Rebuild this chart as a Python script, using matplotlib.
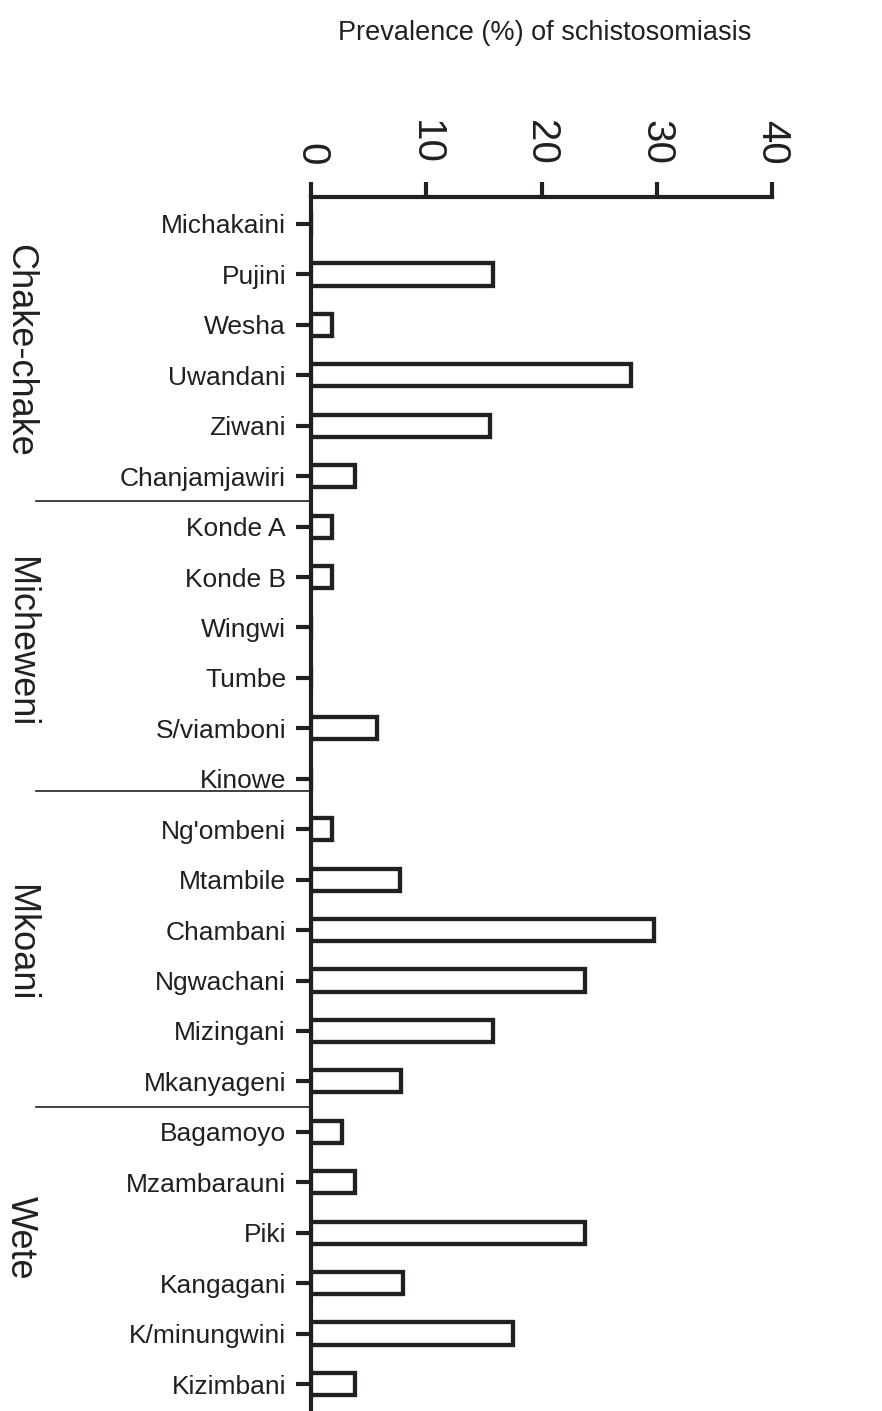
import matplotlib
matplotlib.use("Agg")
import matplotlib.pyplot as plt
from matplotlib.transforms import blended_transform_factory

sites = ["Michakaini", "Pujini", "Wesha", "Uwandani", "Ziwani", "Chanjamjawiri",
         "Konde A", "Konde B", "Wingwi", "Tumbe", "S/viamboni", "Kinowe",
         "Ng'ombeni", "Mtambile", "Chambani", "Ngwachani", "Mizingani", "Mkanyageni",
         "Bagamoyo", "Mzambarauni", "Piki", "Kangagani", "K/minungwini", "Kizimbani"]
prevalence = [0, 15.8, 1.8, 27.8, 15.5, 3.8,
              1.8, 1.8, 0, 0, 5.7, 0,
              1.8, 7.7, 29.8, 23.8, 15.8, 7.8,
              2.7, 3.8, 23.8, 8.0, 17.5, 3.8]
districts = ["Chake-chake", "Micheweni", "Mkoani", "Wete"]
district_centers = [2.5, 8.3, 14.25, 20.1]
separators = [5.5, 11.25, 17.5]
xticks = [0, 10, 20, 30, 40]

ink = "#231f20"
plt.rcParams['font.family'] = ['Liberation Sans', 'DejaVu Sans']

fig = plt.figure(figsize=(8.82, 14.11), dpi=100)
ax = fig.add_axes([311/882, 0.0, (772-311)/882, 1 - 197/1411])

ypos = list(range(len(sites)))
ax.barh(ypos, prevalence, height=0.44, facecolor="white", edgecolor=ink,
        linewidth=3.1, zorder=3)

ax.set_xlim(0, 40)
ax.set_ylim(23.535, -0.535)

ax.xaxis.tick_top()
ax.set_xticks(xticks)
ax.set_xticklabels([str(v) for v in xticks], rotation=-90, fontsize=29, color=ink)
ax.tick_params(axis='x', direction='out', length=11, width=3, pad=12, colors=ink)

ax.set_yticks(ypos)
ax.set_yticklabels(sites, fontsize=19, color=ink)
ax.tick_params(axis='y', direction='out', length=11, width=3, pad=7, colors=ink)

for s in ["right", "bottom"]:
    ax.spines[s].set_visible(False)
for s in ["left", "top"]:
    ax.spines[s].set_linewidth(3)
    ax.spines[s].set_color(ink)

tr = blended_transform_factory(ax.transAxes, ax.transData)
for sep in separators:
    ax.plot([(36-311)/461, 0], [sep, sep], color=ink, linewidth=1.2,
            transform=tr, clip_on=False)

trg = blended_transform_factory(fig.transFigure, ax.transData)
for name, c in zip(districts, district_centers):
    ax.text(20/882, c, name, rotation=-90, ha='center', va='center',
            fontsize=26, color=ink, transform=trg)

fig.text(545/882, 1 - 33/1411, "Prevalence (%) of schistosomiasis",
         ha='center', va='center', fontsize=19.5, color=ink)

fig.savefig("out.png", dpi=100)
